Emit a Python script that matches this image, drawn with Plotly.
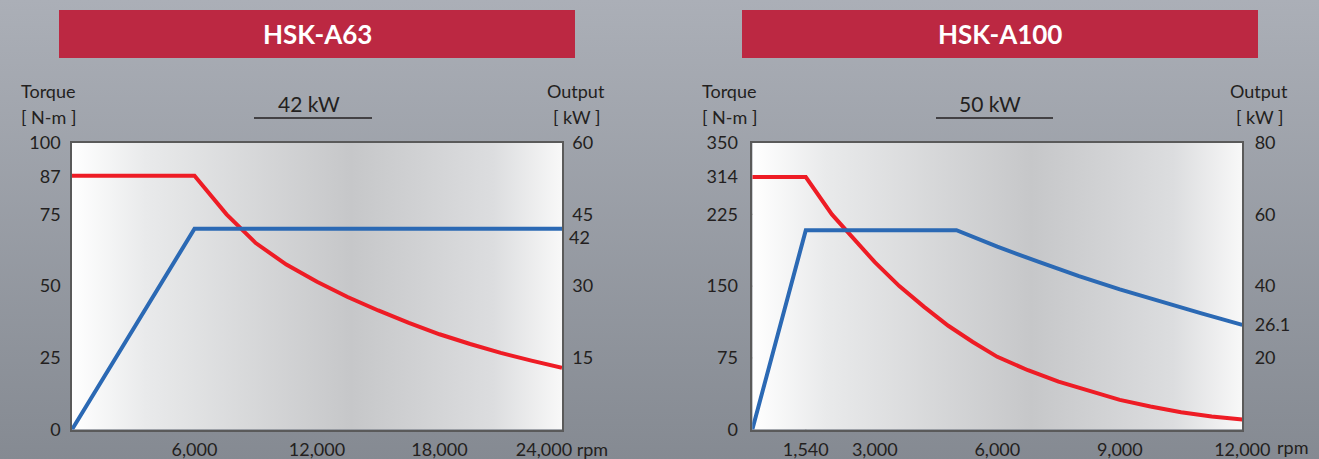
import base64
import plotly.graph_objects as go

W, H = 1319, 459

# ---------------- data ----------------
# HSK-A63 panel
RPM_TORQUE_A63 = [0, 6000, 7570, 9000, 10500, 12000, 13500, 15000, 16500, 18000, 19500, 21000, 22500, 24000]
TORQUE_A63 = [88.5, 88.5, 75, 65, 57.5, 51.5, 46.2, 41.5, 37.2, 33.2, 29.8, 26.7, 24, 21.5]
RPM_OUTPUT_A63 = [0, 6000, 24000]
OUTPUT_A63 = [0, 42, 42]
X_TICKS_A63 = [6000, 12000, 18000, 24000]
X_TEXT_A63 = ["6,000", "12,000", "18,000", "24,000 rpm"]
T_TICKS_A63 = [0, 25, 50, 75, 88, 100]
T_TEXT_A63 = ["0", "25", "50", "75", "87", "100"]
T_GRID_A63 = [25, 50, 75]
P_TICKS_A63 = [15, 30, 45, 60]
P_TEXT_A63 = ["15", "30", "45", "60"]
P_LABEL_A63 = 42
T_RANGE_A63 = [0, 100]
P_RANGE_A63 = [0, 60]
X_RANGE_A63 = [0, 24000]

# HSK-A100 panel
RPM_TORQUE_A100 = [0, 1310, 1950, 2400, 3000, 3600, 4200, 4800, 5400, 6000, 6750, 7500,
                   8250, 9000, 9750, 10500, 11250, 12000]
TORQUE_A100 = [264, 264, 225, 203, 175, 150, 128.5, 108.5, 91.5, 76, 62, 50,
               40, 31, 24, 18, 13.5, 10.5]
RPM_OUTPUT_A100 = [0, 1310, 5000, 5500, 6000, 7000, 8000, 9000, 10000, 11000, 12000]
OUTPUT_A100 = [0, 55.6, 55.6, 53.2, 51.0, 46.8, 42.8, 39.1, 35.7, 32.4, 29.2]
X_TICKS_A100 = [1310, 3000, 6000, 9000, 12000]
X_TEXT_A100 = ["1,540", "3,000", "6,000", "9,000", "12,000"]
X_UNIT = "rpm"
T_TICKS_A100 = [0, 75, 150, 225, 264, 300]
T_TEXT_A100 = ["0", "75", "150", "225", "314", "350"]
T_GRID_A100 = [75, 150, 225]
P_TICKS_A100 = [20, 40, 60, 80, 29.2]
P_TEXT_A100 = ["20", "40", "60", "80", "26.1"]
CORNER_A100 = 1310
T_RANGE_A100 = [0, 300]
P_RANGE_A100 = [0, 80]
X_RANGE_A100 = [0, 12000]

TITLES = ["HSK-A63", "HSK-A100"]
SUBTITLES = ["42 kW", "50 kW"]

# ---------------- styles ----------------
RED = "#ee1c25"
BLUE = "#2b69b4"
BAR = "#bc2842"
TXT = "#231f20"
FRAME = "#5a5a5a"
FONT = "Lato"


def svg_uri(svg):
    return "data:image/svg+xml;base64," + base64.b64encode(svg.encode()).decode()


page_svg = ('<svg xmlns="http://www.w3.org/2000/svg" width="100" height="100" preserveAspectRatio="none">'
            '<defs><linearGradient id="g" x1="0" y1="0" x2="0" y2="1">'
            '<stop offset="0" stop-color="#abafb7"/><stop offset="1" stop-color="#858a92"/>'
            '</linearGradient></defs><rect width="100" height="100" fill="url(#g)"/></svg>')
plot_svg = ('<svg xmlns="http://www.w3.org/2000/svg" width="100" height="100" preserveAspectRatio="none">'
            '<defs><linearGradient id="g" x1="0" y1="0" x2="1" y2="0">'
            '<stop offset="0" stop-color="#ffffff"/><stop offset="0.15" stop-color="#e9eaeb"/>'
            '<stop offset="0.57" stop-color="#c6c7c9"/><stop offset="0.86" stop-color="#dcdddf"/>'
            '<stop offset="1" stop-color="#f8f8f8"/>'
            '</linearGradient></defs><rect width="100" height="100" fill="url(#g)"/></svg>')


def px(v):
    return v / W


def py(v):
    return 1 - v / H


fig = go.Figure()

fig.add_trace(go.Scatter(x=RPM_OUTPUT_A63, y=OUTPUT_A63, xaxis="x", yaxis="y2", mode="lines",
                         line=dict(color=BLUE, width=4), hoverinfo="skip"))
fig.add_trace(go.Scatter(x=RPM_TORQUE_A63, y=TORQUE_A63, xaxis="x", yaxis="y", mode="lines",
                         line=dict(color=RED, width=4), hoverinfo="skip"))
fig.add_trace(go.Scatter(x=RPM_OUTPUT_A100, y=OUTPUT_A100, xaxis="x2", yaxis="y4", mode="lines",
                         line=dict(color=BLUE, width=4), hoverinfo="skip"))
fig.add_trace(go.Scatter(x=RPM_TORQUE_A100, y=TORQUE_A100, xaxis="x2", yaxis="y3", mode="lines",
                         line=dict(color=RED, width=4), hoverinfo="skip"))

ydom = [py(429.5), py(142.7)]
tickfont = dict(family=FONT, size=18, color=TXT)

xcommon = dict(showgrid=False, zeroline=False, showline=True, mirror=True, linecolor=FRAME,
               linewidth=1.5, ticks="", tickfont=tickfont, tickmode="array", fixedrange=True,
               ticklabelstandoff=3, automargin=False)
ycommon = dict(showgrid=False, zeroline=False, showline=True, linecolor=FRAME, linewidth=1.5,
               ticks="", tickfont=tickfont, tickmode="array", fixedrange=True, automargin=False)

fig.update_layout(
    template="none",
    xaxis=dict(domain=[px(72), px(562)], range=X_RANGE_A63, anchor="y",
               tickvals=X_TICKS_A63, ticktext=X_TEXT_A63, **xcommon),
    yaxis=dict(domain=ydom, range=T_RANGE_A63, anchor="x",
               tickvals=T_TICKS_A63, ticktext=T_TEXT_A63, ticklabelstandoff=6, **ycommon),
    yaxis2=dict(overlaying="y", side="right", range=P_RANGE_A63, anchor="x",
                tickvals=P_TICKS_A63, ticktext=P_TEXT_A63, ticklabelstandoff=5, **ycommon),
    xaxis2=dict(domain=[px(752.3), px(1242.3)], range=X_RANGE_A100, anchor="y3",
                tickvals=X_TICKS_A100, ticktext=X_TEXT_A100, **xcommon),
    yaxis3=dict(domain=ydom, range=T_RANGE_A100, anchor="x2",
                tickvals=T_TICKS_A100, ticktext=T_TEXT_A100, ticklabelstandoff=9, **ycommon),
    yaxis4=dict(overlaying="y3", side="right", range=P_RANGE_A100, anchor="x2",
                tickvals=P_TICKS_A100, ticktext=P_TEXT_A100, ticklabelstandoff=7, **ycommon),
)

shapes = []
# header bars
for x0, x1 in [(59, 575), (742, 1258)]:
    shapes.append(dict(type="rect", xref="paper", yref="paper", x0=px(x0), x1=px(x1),
                       y0=py(58), y1=py(10), fillcolor=BAR, line=dict(width=0), layer="above"))
# subtitle underlines
for x0, x1 in [(254, 372), (936, 1053)]:
    shapes.append(dict(type="line", xref="paper", yref="paper", x0=px(x0), x1=px(x1),
                       y0=py(118), y1=py(118), line=dict(color=TXT, width=1.5)))
# grid lines
for v in T_GRID_A63:
    shapes.append(dict(type="line", xref="x domain", yref="y", x0=0, x1=1, y0=v, y1=v,
                       line=dict(color=FRAME, width=1.2), layer="below"))
for v in T_GRID_A100:
    shapes.append(dict(type="line", xref="x2 domain", yref="y3", x0=0, x1=1, y0=v, y1=v,
                       line=dict(color=FRAME, width=1.2), layer="below"))
# dashed marker at corner speed
shapes.append(dict(type="line", xref="x2", yref="y3", x0=CORNER_A100, x1=CORNER_A100,
                   y0=0, y1=TORQUE_A100[1], line=dict(color="#3a3a3a", width=1.2, dash="dash"),
                   layer="below"))

annotations = []
for t, cx in zip(TITLES, [317, 1000]):
    annotations.append(dict(text="<b>%s</b>" % t, xref="paper", yref="paper", x=px(cx), y=py(34),
                            showarrow=False, font=dict(family=FONT, size=26, color="white"),
                            xanchor="center", yanchor="middle"))
for t, cx in zip(SUBTITLES, [309, 990]):
    annotations.append(dict(text=t, xref="paper", yref="paper", x=px(cx), y=py(103),
                            showarrow=False, font=dict(family=FONT, size=21, color=TXT),
                            xanchor="center", yanchor="middle"))
for cx, t1, t2 in [(48, "Torque", "[ N-m ]"), (576, "Output", "[ kW ]"),
                   (729, "Torque", "[ N-m ]"), (1259, "Output", "[ kW ]")]:
    annotations.append(dict(text=t1, xref="paper", yref="paper", x=px(cx), y=py(91),
                            showarrow=False, font=dict(family=FONT, size=18, color=TXT),
                            xanchor="center", yanchor="middle"))
    annotations.append(dict(text=t2, xref="paper", yref="paper", x=px(cx), y=py(117),
                            showarrow=False, font=dict(family=FONT, size=18, color=TXT),
                            xanchor="center", yanchor="middle"))
# "42" output label (shifted below the 45 label)
annotations.append(dict(text=str(P_LABEL_A63), xref="x domain", yref="y2", x=1, y=P_LABEL_A63,
                        xanchor="left", yanchor="middle", xshift=5, yshift=-8, showarrow=False,
                        font=tickfont))
# unit after the last speed label of the HSK-A100 panel
annotations.append(dict(text=X_UNIT, xref="x2", yref="y3 domain", x=X_RANGE_A100[1], y=0,
                        xanchor="left", yanchor="top", xshift=33, yshift=-4, showarrow=False,
                        font=tickfont))

images = [
    dict(source=svg_uri(page_svg), xref="paper", yref="paper", x=0, y=1, sizex=1, sizey=1,
         xanchor="left", yanchor="top", sizing="stretch", layer="below"),
    dict(source=svg_uri(plot_svg), xref="x domain", yref="y domain", x=0, y=1, sizex=1, sizey=1,
         xanchor="left", yanchor="top", sizing="stretch", layer="below"),
    dict(source=svg_uri(plot_svg), xref="x2 domain", yref="y3 domain", x=0, y=1, sizex=1, sizey=1,
         xanchor="left", yanchor="top", sizing="stretch", layer="below"),
]

fig.update_layout(
    width=W, height=H, autosize=False, margin=dict(l=0, r=0, t=0, b=0, pad=0),
    paper_bgcolor="#9a9ea6", plot_bgcolor="rgba(0,0,0,0)",
    showlegend=False, shapes=shapes, annotations=annotations, images=images,
    font=dict(family=FONT, color=TXT),
)

fig.write_html("out.html", config={"displayModeBar": False},
               post_script="document.body.style.margin='0';document.body.style.overflow='hidden';")
